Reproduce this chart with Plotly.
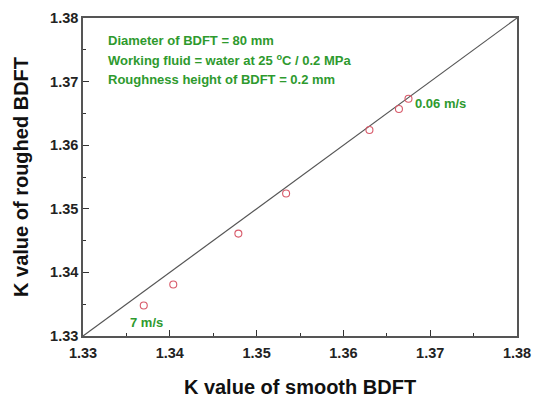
import plotly.graph_objects as go

k_smooth = [1.3370, 1.3404, 1.3479, 1.3534, 1.3630, 1.3664, 1.3675]
k_rough = [1.3348, 1.3381, 1.3461, 1.3524, 1.3624, 1.3657, 1.3673]
diag = [1.33, 1.38]
x_ticks = [1.33, 1.34, 1.35, 1.36, 1.37, 1.38]
y_ticks = [1.33, 1.34, 1.35, 1.36, 1.37, 1.38]
info_lines = ["Diameter of BDFT = 80 mm",
              "Working fluid = water at 25 <sup>o</sup>C / 0.2 MPa",
              "Roughness height of BDFT = 0.2 mm"]

GREEN = "#2e9a2e"
FONT = "Liberation Sans, Arial, sans-serif"

fig = go.Figure()
fig.add_trace(go.Scatter(x=diag, y=diag, mode="lines",
                         line=dict(color="#555555", width=1.2), showlegend=False))
fig.add_trace(go.Scatter(x=k_smooth, y=k_rough, mode="markers",
                         marker=dict(symbol="circle-open", size=7, color="#d85a6a",
                                     line=dict(width=1.1)), showlegend=False))

axis_common = dict(
    showgrid=False, zeroline=False, showline=True, linecolor="#555555", linewidth=1.5,
    mirror=True, ticks="inside", ticklen=6, tickwidth=1, tickcolor="#333333",
    tickfont=dict(family=FONT, size=14.5, color="#222222", weight="bold"),
    minor=dict(ticks="inside", ticklen=3, tickwidth=1, tickcolor="#333333", dtick=0.005),
    dtick=0.01, tickformat=".2f", automargin=False,
)
fig.update_xaxes(range=[1.33, 1.38], tickvals=x_ticks, ticklabelstandoff=3,
                 title=dict(text="K value of smooth BDFT",
                            font=dict(family=FONT, size=20, color="#111111", weight="bold"),
                            standoff=20), **axis_common)
fig.update_yaxes(range=[1.33, 1.38], tickvals=y_ticks,
                 title=dict(text="K value of roughed BDFT",
                            font=dict(family=FONT, size=20, color="#111111", weight="bold"),
                            standoff=16), **axis_common)

ann_font = dict(family=FONT, size=13, color=GREEN, weight="bold")
for i, t in enumerate(info_lines):
    fig.add_annotation(x=1.3327, y=1.3765 - i * 0.0031, xref="x", yref="y",
                       text=t, showarrow=False, xanchor="left", yanchor="middle", font=ann_font)
fig.add_annotation(x=k_smooth[-1] + 0.0005, y=k_rough[-1] - 0.0008, text="0.06 m/s",
                   showarrow=False, xanchor="left", yanchor="middle", font=ann_font)
fig.add_annotation(x=k_smooth[0] - 0.0018, y=1.3322, text="7 m/s",
                   showarrow=False, xanchor="left", yanchor="middle", font=ann_font)

fig.update_layout(width=533, height=398, margin=dict(l=83, r=16, t=18, b=62),
                  plot_bgcolor="white", paper_bgcolor="white")
fig.write_html("out.html")
